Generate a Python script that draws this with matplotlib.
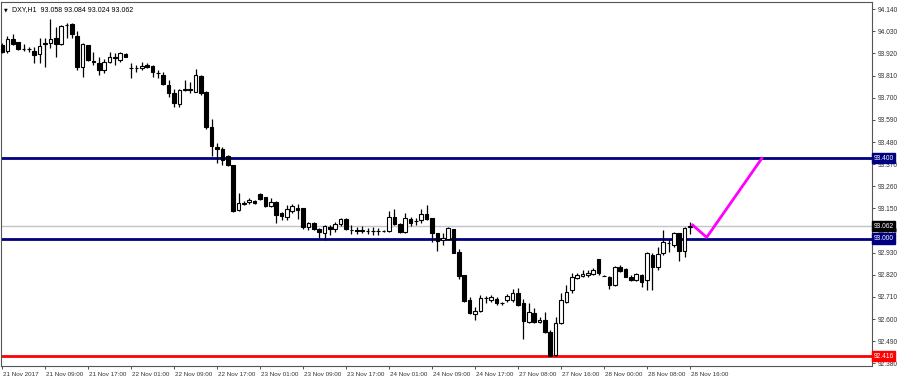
import numpy as np
import matplotlib
matplotlib.use("Agg")
import matplotlib.pyplot as plt
import matplotlib.transforms as mtransforms

plt.rcParams['font.family'] = ['Liberation Sans', 'DejaVu Sans']

# hourly DXY candles, 21 Nov 01:00 .. 28 Nov 16:00
opens = [93.962, 93.934, 93.992, 93.975, 93.944, 93.942, 93.934, 93.916, 93.966, 93.974,
         93.995, 93.966, 94.060, 94.065, 94.007, 93.854, 93.962, 93.881, 93.871, 93.838,
         93.876, 93.900, 93.888, 93.919, 93.848, 93.846, 93.846, 93.863, 93.858, 93.824,
         93.813, 93.764, 93.725, 93.669, 93.740, 93.741, 93.730, 93.808, 93.730, 93.556,
         93.454, 93.444, 93.410, 93.366, 93.142, 93.174, 93.180, 93.188, 93.222, 93.205,
         93.162, 93.183, 93.125, 93.106, 93.139, 93.154, 93.150, 93.056, 93.076, 93.046,
         93.029, 93.056, 93.046, 93.072, 93.096, 93.043, 93.040, 93.039, 93.039, 93.036,
         93.037, 93.037, 93.039, 93.109, 93.072, 93.034, 93.096, 93.087, 93.092, 93.122,
         93.101, 93.026, 92.993, 92.996, 93.046, 92.935, 92.817, 92.694, 92.625, 92.641,
         92.704, 92.694, 92.701, 92.679, 92.694, 92.694, 92.731, 92.678, 92.587, 92.631,
         92.583, 92.595, 92.537, 92.421, 92.578, 92.686, 92.744, 92.802, 92.814, 92.817,
         92.824, 92.897, 92.815, 92.807, 92.769, 92.857, 92.847, 92.810, 92.794, 92.819,
         92.794, 92.918, 92.857, 92.926, 92.976, 92.968, 93.026, 92.940, 93.058]
highs = [93.970, 94.007, 94.017, 93.977, 93.967, 93.954, 93.954, 93.995, 93.995, 94.092,
         94.053, 94.062, 94.073, 94.073, 94.033, 93.970, 93.964, 93.926, 93.904, 93.891,
         93.929, 93.921, 93.929, 93.921, 93.871, 93.863, 93.879, 93.874, 93.863, 93.838,
         93.830, 93.788, 93.742, 93.742, 93.788, 93.780, 93.841, 93.813, 93.732, 93.593,
         93.473, 93.457, 93.415, 93.368, 93.228, 93.188, 93.200, 93.190, 93.225, 93.208,
         93.200, 93.185, 93.134, 93.167, 93.170, 93.170, 93.154, 93.084, 93.084, 93.051,
         93.067, 93.067, 93.084, 93.101, 93.101, 93.067, 93.056, 93.062, 93.051, 93.056,
         93.051, 93.045, 93.139, 93.145, 93.076, 93.129, 93.106, 93.101, 93.145, 93.167,
         93.103, 93.028, 93.026, 93.059, 93.048, 92.946, 92.819, 92.708, 92.658, 92.719,
         92.714, 92.719, 92.708, 92.686, 92.724, 92.751, 92.756, 92.698, 92.678, 92.653,
         92.611, 92.636, 92.545, 92.611, 92.728, 92.769, 92.827, 92.830, 92.844, 92.844,
         92.852, 92.898, 92.818, 92.814, 92.864, 92.868, 92.852, 92.819, 92.830, 92.824,
         92.935, 92.926, 92.960, 93.042, 92.996, 93.034, 93.029, 93.059, 93.084]
lows = [93.924, 93.921, 93.962, 93.937, 93.934, 93.929, 93.871, 93.871, 93.854, 93.946,
        93.904, 93.962, 93.999, 93.999, 93.838, 93.802, 93.884, 93.863, 93.813, 93.821,
        93.871, 93.863, 93.879, 93.902, 93.796, 93.830, 93.838, 93.846, 93.805, 93.796,
        93.763, 93.706, 93.656, 93.656, 93.735, 93.722, 93.727, 93.714, 93.543, 93.410,
        93.374, 93.366, 93.362, 93.134, 93.139, 93.167, 93.170, 93.172, 93.192, 93.155,
        93.155, 93.079, 93.092, 93.092, 93.125, 93.096, 93.046, 93.043, 93.043, 93.001,
        92.993, 93.018, 93.034, 93.062, 93.043, 93.023, 93.023, 93.026, 93.023, 93.018,
        93.018, 93.034, 93.034, 93.067, 93.029, 93.029, 93.062, 93.067, 93.079, 93.092,
        92.985, 92.940, 92.968, 92.993, 92.926, 92.797, 92.686, 92.625, 92.595, 92.636,
        92.678, 92.686, 92.670, 92.670, 92.686, 92.686, 92.665, 92.499, 92.578, 92.582,
        92.578, 92.532, 92.416, 92.418, 92.575, 92.678, 92.728, 92.797, 92.807, 92.810,
        92.819, 92.819, 92.812, 92.747, 92.764, 92.835, 92.807, 92.790, 92.790, 92.757,
        92.744, 92.744, 92.844, 92.918, 92.935, 92.960, 92.890, 92.907, 93.024]
closes = [93.929, 93.990, 93.967, 93.941, 93.941, 93.940, 93.913, 93.957, 93.974, 93.992,
          93.966, 94.057, 94.063, 94.015, 93.854, 93.967, 93.888, 93.879, 93.838, 93.876,
          93.904, 93.902, 93.921, 93.904, 93.846, 93.847, 93.859, 93.851, 93.826, 93.822,
          93.767, 93.722, 93.672, 93.739, 93.742, 93.742, 93.813, 93.725, 93.553, 93.460,
          93.444, 93.391, 93.366, 93.137, 93.178, 93.176, 93.192, 93.175, 93.195, 93.162,
          93.183, 93.117, 93.112, 93.145, 93.162, 93.142, 93.056, 93.076, 93.046, 93.034,
          93.062, 93.046, 93.072, 93.096, 93.046, 93.042, 93.039, 93.040, 93.038, 93.037,
          93.036, 93.039, 93.109, 93.072, 93.034, 93.101, 93.079, 93.088, 93.122, 93.096,
          93.029, 92.989, 93.004, 93.051, 92.930, 92.814, 92.689, 92.631, 92.641, 92.706,
          92.703, 92.708, 92.681, 92.678, 92.714, 92.728, 92.670, 92.592, 92.636, 92.587,
          92.595, 92.537, 92.418, 92.578, 92.694, 92.736, 92.810, 92.819, 92.824, 92.827,
          92.844, 92.827, 92.814, 92.769, 92.857, 92.840, 92.810, 92.794, 92.824, 92.786,
          92.926, 92.857, 92.923, 92.985, 92.977, 93.026, 92.940, 93.051, 93.062]

x_labels = ["21 Nov 2017", "21 Nov 09:00", "21 Nov 17:00", "22 Nov 01:00", "22 Nov 09:00",
            "22 Nov 17:00", "23 Nov 01:00", "23 Nov 09:00", "23 Nov 17:00", "24 Nov 01:00",
            "24 Nov 09:00", "24 Nov 17:00", "27 Nov 08:00", "27 Nov 16:00", "28 Nov 00:00",
            "28 Nov 08:00", "28 Nov 16:00"]
price_ticks = [94.140, 94.030, 93.920, 93.810, 93.700, 93.590, 93.480, 93.370, 93.260,
               93.150, 93.040, 92.930, 92.820, 92.710, 92.600, 92.490, 92.380]

resistance = 93.400
support = 93.000
low_line = 92.416
last_price = 93.062

# hand-drawn projection path (bar index, price)
path_x = [128.3, 131.1, 141.5]
path_y = [93.072, 93.006, 93.404]

o = np.array(opens)
h = np.array(highs)
l = np.array(lows)
c = np.array(closes)
idx = np.arange(len(o))

fig = plt.figure(figsize=(9, 3.8), dpi=100)
ax = fig.add_axes([1 / 900, 14 / 380, 871 / 900, 364 / 380])

ax.axhline(last_price, color='#c0c4c8', linewidth=1, zorder=1)
ax.axhline(resistance, color='#000080', linewidth=2, zorder=1)
ax.axhline(support, color='#000080', linewidth=2, zorder=1)
ax.axhline(low_line, color='#ff0000', linewidth=2, zorder=1)

ax.vlines(idx, l, h, color='black', linewidth=0.9, zorder=2)
up = c >= o
body_lo = np.minimum(o, c)
body_h = np.maximum(np.abs(c - o), 0.0015)
ax.bar(idx[up], body_h[up], bottom=body_lo[up], width=0.68, facecolor='white',
       edgecolor='black', linewidth=0.8, zorder=3)
ax.bar(idx[~up], body_h[~up], bottom=body_lo[~up], width=0.68, facecolor='black',
       edgecolor='black', linewidth=0.8, zorder=3)

ax.plot(path_x, path_y, color='#ff00ff', linewidth=2, solid_capstyle='butt', zorder=4)

ax.set_xlim(-0.19, 161.86)
ax.set_ylim(92.3666, 94.176)

ax.set_xticks(np.arange(0, 8 * len(x_labels), 8))
ax.set_xticklabels(x_labels, fontsize=4.5, ha='left')
ax.tick_params(axis='x', direction='out', length=2.5, width=0.6, pad=1.5, colors='#333333')
for lab in ax.get_xticklabels():
    lab.set_transform(lab.get_transform() + mtransforms.ScaledTranslation(1 / 100, 0, fig.dpi_scale_trans))

ax.yaxis.tick_right()
ax.set_yticks(price_ticks)
ax.set_yticklabels(["%.3f" % v for v in price_ticks], fontsize=4.8)
ax.tick_params(axis='y', direction='out', length=2.5, width=0.6, pad=1.5, colors='#333333')

for sp in ax.spines.values():
    sp.set_color('#555555')
    sp.set_linewidth(0.8)

tr = mtransforms.blended_transform_factory(ax.transAxes, ax.transData)
for val, col in [(resistance, '#000080'), (last_price, 'black'), (support, '#000080'), (low_line, '#ff0000')]:
    ax.text(1.0015, val, "%.3f" % val, transform=tr, fontsize=4.8, color='white', va='center', ha='left',
            clip_on=False, zorder=6,
            bbox=dict(boxstyle='square,pad=0.25', facecolor=col, edgecolor=col))

ax.text(0.004, 0.985, "\u25bc", transform=ax.transAxes, fontsize=3.5, va='top', ha='left', family='DejaVu Sans')
ax.text(0.013, 0.988, "DXY,H1  93.058 93.084 93.024 93.062", transform=ax.transAxes,
        fontsize=5, va='top', ha='left')

fig.savefig("out.png", dpi=100)
